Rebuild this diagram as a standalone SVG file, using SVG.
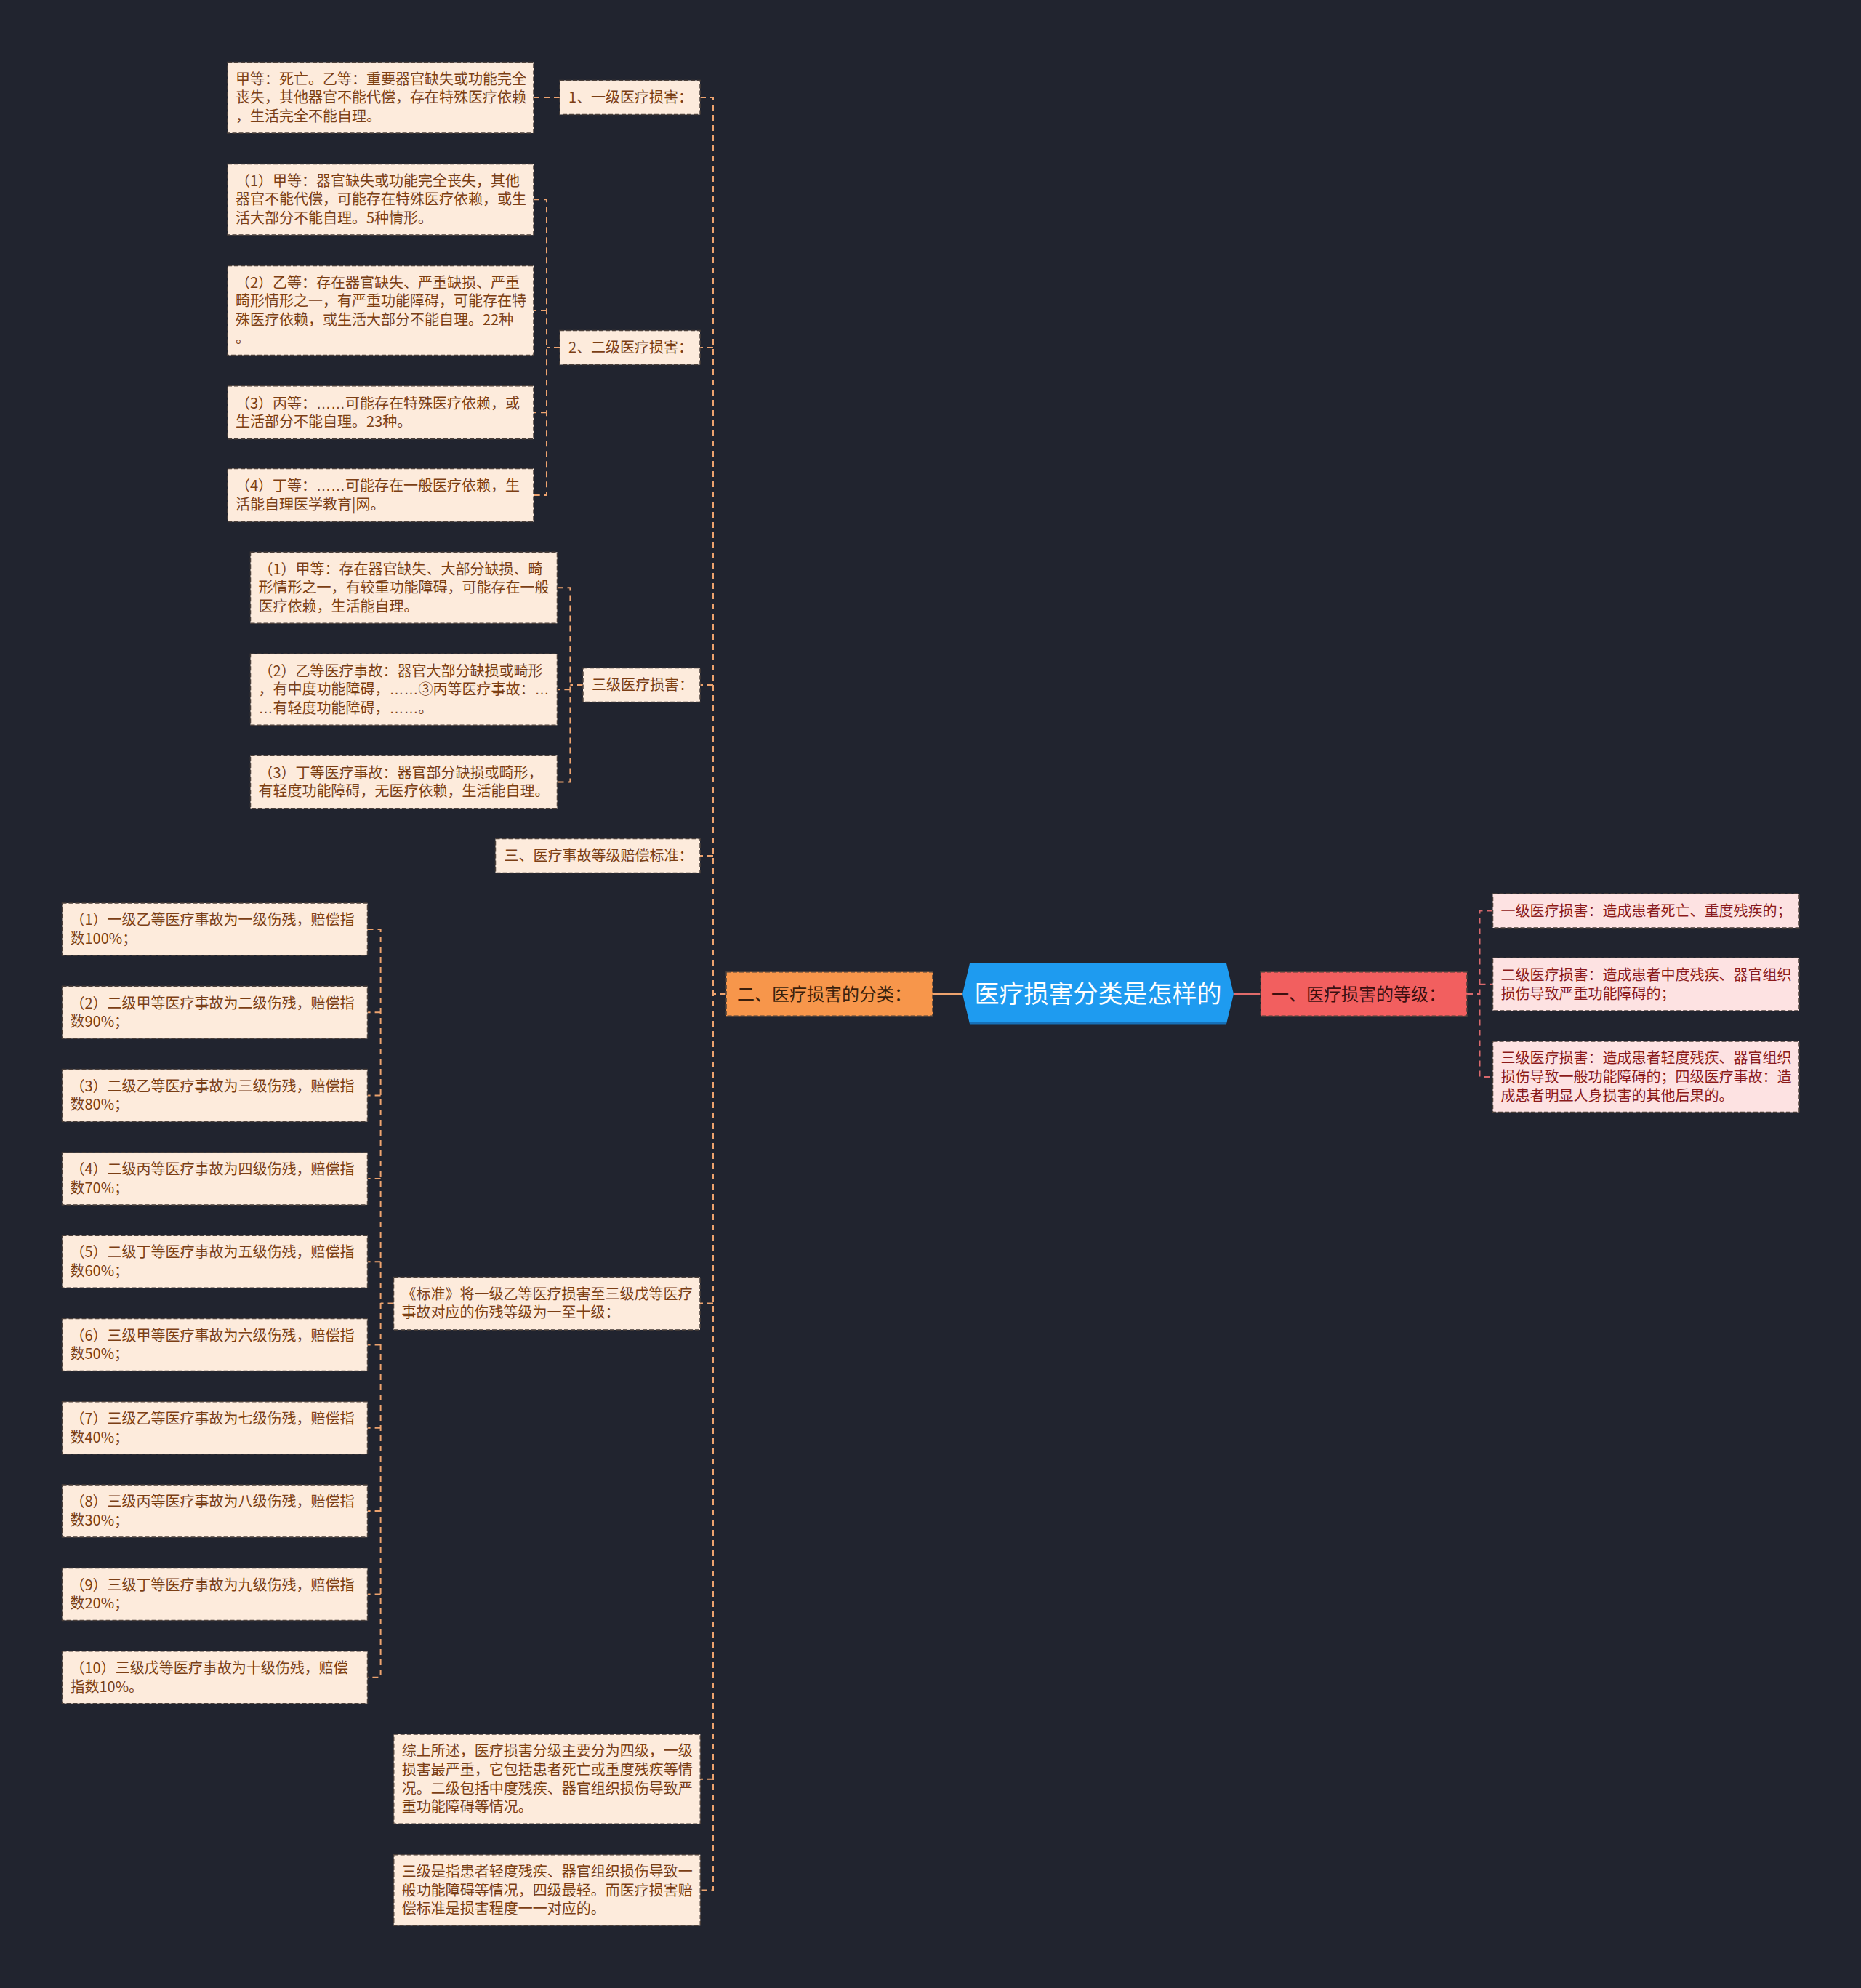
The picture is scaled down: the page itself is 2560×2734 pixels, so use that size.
<svg xmlns="http://www.w3.org/2000/svg" width="2560" height="2734" viewBox="0 0 2560 2734">
<style>
text{font-family:"Noto Sans CJK SC","Noto Sans",sans-serif;}
.bx{fill:#FDEBDC;stroke:#4a3f3a;stroke-width:1.5;stroke-dasharray:6 3;}
.bxr{fill:#FDE2E2;stroke:#4a3f3a;stroke-width:1.5;stroke-dasharray:6 3;}
.t{font-size:20px;fill:#7B3F15;}
.tr{font-size:20px;fill:#8B1A1A;}
.e{font-family:"Liberation Sans",sans-serif;}
.c{fill:none;stroke:#EDA36F;stroke-width:2;stroke-dasharray:8 6;}
.cr{fill:none;stroke:#D8686C;stroke-width:2;stroke-dasharray:8 6;}
.l1{font-size:24px;}
</style>
<rect width="2560" height="2734" fill="#21242F"/>

<g id="connectors">
  <line x1="1283" y1="1367" x2="1324" y2="1367" stroke="#EDA36F" stroke-width="4"/>
  <line x1="1697" y1="1367" x2="1734" y2="1367" stroke="#E06B6B" stroke-width="4"/>
  <path class="c" d="M999,1367 H981"/>
  <path class="c" d="M963,134 H981 V2599.5 H963"/>
  <path class="c" d="M981,478 H963"/>
  <path class="c" d="M981,942 H963"/>
  <path class="c" d="M981,1177 H963"/>
  <path class="c" d="M981,1792.6 H963"/>
  <path class="c" d="M981,2446.7 H963"/>
  <path class="c" d="M770,134 H734"/>
  <path class="c" d="M770,478 H752"/>
  <path class="c" d="M734,274.3 H752 V681 H734"/>
  <path class="c" d="M752,427 H734"/>
  <path class="c" d="M752,567.3 H734"/>
  <path class="c" d="M802,942 H784.4"/>
  <path class="c" d="M766.5,808.3 H784.4 V1075.5 H766.5"/>
  <path class="c" d="M784.4,948.3 H766.5"/>
  <path class="c" d="M541.5,1792.6 H523.6"/>
  <path class="c" d="M505.5,1278 H523.6 V2306.7 H505.5"/>
  <path class="c" d="M523.6,1392.3 H505.5"/>
  <path class="c" d="M523.6,1506.6 H505.5"/>
  <path class="c" d="M523.6,1620.9 H505.5"/>
  <path class="c" d="M523.6,1735.2 H505.5"/>
  <path class="c" d="M523.6,1849.5 H505.5"/>
  <path class="c" d="M523.6,1963.8 H505.5"/>
  <path class="c" d="M523.6,2078.1 H505.5"/>
  <path class="c" d="M523.6,2192.4 H505.5"/>
  <path class="cr" d="M2018,1367 H2035.5"/>
  <path class="cr" d="M2053.5,1252.5 H2035.5 V1481 H2053.5"/>
  <path class="cr" d="M2035.5,1353.7 H2053.5"/>
</g>

<g id="root">
  <polygon points="1324,1367 1334,1325 1687,1325 1697,1367 1687,1408 1334,1408" fill="#1E9BF0"/>
  <line x1="1334" y1="1407" x2="1687" y2="1407" stroke="#1670B8" stroke-width="3"/>
  <text x="1510.5" y="1379" font-size="34" fill="#FFFFFF" text-anchor="middle">医疗损害分类是怎样的</text>
</g>

<g id="n-fenlei">
  <rect x="999" y="1336.7" width="284" height="60.6" fill="#F7964B" stroke="#4a3f3a" stroke-width="1.5" stroke-dasharray="6 3"/>
  <text class="l1" x="1014" y="1375.5" fill="#3b1f0c">二、医疗损害的分类：</text>
</g>

<g id="n-dengji">
  <rect x="1734" y="1336.7" width="284" height="60.6" fill="#F25F5F" stroke="#4a3f3a" stroke-width="1.5" stroke-dasharray="6 3"/>
  <text class="l1" x="1749" y="1375.5" fill="#3d1010">一、医疗损害的等级：</text>
</g>

<g id="n-yiji">
  <rect class="bx" x="770" y="110.5" width="193" height="47"/>
  <text class="t" x="782" y="141">1、一级医疗损害：</text>
</g>
<g id="n-yiji-a">
  <rect class="bx" x="313" y="85.5" width="421" height="97.5"/>
  <text class="t" x="324"><tspan x="324" y="115.6">甲等：死亡。乙等：重要器官缺失或功能完全</tspan><tspan x="324" y="141.2">丧失，其他器官不能代偿，存在特殊医疗依赖</tspan><tspan x="324" y="166.8">，生活完全不能自理。</tspan></text>
</g>

<g id="n-erji">
  <rect class="bx" x="770" y="454.5" width="193" height="47"/>
  <text class="t" x="782" y="485">2、二级医疗损害：</text>
</g>
<g id="n-erji-1">
  <rect class="bx" x="313" y="225.6" width="421" height="97.5"/>
  <text class="t"><tspan x="324" y="255.7">（1）甲等：器官缺失或功能完全丧失，其他</tspan><tspan x="324" y="281.3">器官不能代偿，可能存在特殊医疗依赖，或生</tspan><tspan x="324" y="306.9">活大部分不能自理。5种情形。</tspan></text>
</g>
<g id="n-erji-2">
  <rect class="bx" x="313" y="365.5" width="421" height="123"/>
  <text class="t"><tspan x="324" y="395.6">（2）乙等：存在器官缺失、严重缺损、严重</tspan><tspan x="324" y="421.2">畸形情形之一，有严重功能障碍，可能存在特</tspan><tspan x="324" y="446.8">殊医疗依赖，或生活大部分不能自理。22种</tspan><tspan x="324" y="472.4">。</tspan></text>
</g>
<g id="n-erji-3">
  <rect class="bx" x="313" y="530.8" width="421" height="73"/>
  <text class="t"><tspan x="324" y="561.5">（3）丙等：<tspan class="e">……</tspan>可能存在特殊医疗依赖，或</tspan><tspan x="324" y="587.1">生活部分不能自理。23种。</tspan></text>
</g>
<g id="n-erji-4">
  <rect class="bx" x="313" y="644.5" width="421" height="73"/>
  <text class="t"><tspan x="324" y="675.2">（4）丁等：<tspan class="e">……</tspan>可能存在一般医疗依赖，生</tspan><tspan x="324" y="700.8">活能自理医学教育|网。</tspan></text>
</g>

<g id="n-sanji">
  <rect class="bx" x="802" y="918.5" width="161" height="47"/>
  <text class="t" x="814" y="949">三级医疗损害：</text>
</g>
<g id="n-sanji-1">
  <rect class="bx" x="344.5" y="759.3" width="422" height="98"/>
  <text class="t"><tspan x="355.5" y="789.7">（1）甲等：存在器官缺失、大部分缺损、畸</tspan><tspan x="355.5" y="815.3">形情形之一，有较重功能障碍，可能存在一般</tspan><tspan x="355.5" y="840.9">医疗依赖，生活能自理。</tspan></text>
</g>
<g id="n-sanji-2">
  <rect class="bx" x="344.5" y="899.3" width="422" height="98"/>
  <text class="t"><tspan x="355.5" y="929.7">（2）乙等医疗事故：器官大部分缺损或畸形</tspan><tspan x="355.5" y="955.3">，有中度功能障碍，<tspan class="e">……</tspan>③丙等医疗事故：<tspan class="e">…</tspan></tspan><tspan x="355.5" y="980.9"><tspan class="e">…</tspan>有轻度功能障碍，<tspan class="e">……</tspan>。</tspan></text>
</g>
<g id="n-sanji-3">
  <rect class="bx" x="344.5" y="1039.3" width="422" height="72.4"/>
  <text class="t"><tspan x="355.5" y="1069.7">（3）丁等医疗事故：器官部分缺损或畸形，</tspan><tspan x="355.5" y="1095.3">有轻度功能障碍，无医疗依赖，生活能自理。</tspan></text>
</g>

<g id="n-peichang">
  <rect class="bx" x="681.5" y="1153.5" width="281.5" height="47"/>
  <text class="t" x="693.5" y="1184">三、医疗事故等级赔偿标准：</text>
</g>

<g id="n-biaozhun">
  <rect class="bx" x="541.5" y="1756.4" width="421.5" height="72.5"/>
  <text class="t"><tspan x="552.5" y="1786.8">《标准》将一级乙等医疗损害至三级戊等医疗</tspan><tspan x="552.5" y="1812.4">事故对应的伤残等级为一至十级：</tspan></text>
</g>
<g id="n-bz-1">
  <rect class="bx" x="85.5" y="1242" width="420" height="72"/>
  <text class="t"><tspan x="96.5" y="1272.2">（1）一级乙等医疗事故为一级伤残，赔偿指</tspan><tspan x="96.5" y="1297.8">数100%；</tspan></text>
</g>
<g id="n-bz-2">
  <rect class="bx" x="85.5" y="1356.3" width="420" height="72"/>
  <text class="t"><tspan x="96.5" y="1386.5">（2）二级甲等医疗事故为二级伤残，赔偿指</tspan><tspan x="96.5" y="1412.1">数90%；</tspan></text>
</g>
<g id="n-bz-3">
  <rect class="bx" x="85.5" y="1470.6" width="420" height="72"/>
  <text class="t"><tspan x="96.5" y="1500.8">（3）二级乙等医疗事故为三级伤残，赔偿指</tspan><tspan x="96.5" y="1526.4">数80%；</tspan></text>
</g>
<g id="n-bz-4">
  <rect class="bx" x="85.5" y="1584.9" width="420" height="72"/>
  <text class="t"><tspan x="96.5" y="1615.1">（4）二级丙等医疗事故为四级伤残，赔偿指</tspan><tspan x="96.5" y="1640.7">数70%；</tspan></text>
</g>
<g id="n-bz-5">
  <rect class="bx" x="85.5" y="1699.2" width="420" height="72"/>
  <text class="t"><tspan x="96.5" y="1729.4">（5）二级丁等医疗事故为五级伤残，赔偿指</tspan><tspan x="96.5" y="1755">数60%；</tspan></text>
</g>
<g id="n-bz-6">
  <rect class="bx" x="85.5" y="1813.5" width="420" height="72"/>
  <text class="t"><tspan x="96.5" y="1843.7">（6）三级甲等医疗事故为六级伤残，赔偿指</tspan><tspan x="96.5" y="1869.3">数50%；</tspan></text>
</g>
<g id="n-bz-7">
  <rect class="bx" x="85.5" y="1927.8" width="420" height="72"/>
  <text class="t"><tspan x="96.5" y="1958">（7）三级乙等医疗事故为七级伤残，赔偿指</tspan><tspan x="96.5" y="1983.6">数40%；</tspan></text>
</g>
<g id="n-bz-8">
  <rect class="bx" x="85.5" y="2042.1" width="420" height="72"/>
  <text class="t"><tspan x="96.5" y="2072.3">（8）三级丙等医疗事故为八级伤残，赔偿指</tspan><tspan x="96.5" y="2097.9">数30%；</tspan></text>
</g>
<g id="n-bz-9">
  <rect class="bx" x="85.5" y="2156.4" width="420" height="72"/>
  <text class="t"><tspan x="96.5" y="2186.6">（9）三级丁等医疗事故为九级伤残，赔偿指</tspan><tspan x="96.5" y="2212.2">数20%；</tspan></text>
</g>
<g id="n-bz-10">
  <rect class="bx" x="85.5" y="2270.7" width="420" height="72"/>
  <text class="t"><tspan x="96.5" y="2300.9">（10）三级戊等医疗事故为十级伤残，赔偿</tspan><tspan x="96.5" y="2326.5">指数10%。</tspan></text>
</g>

<g id="n-zongshang">
  <rect class="bx" x="541.7" y="2385" width="421.6" height="123.3"/>
  <text class="t"><tspan x="552.7" y="2415.3">综上所述，医疗损害分级主要分为四级，一级</tspan><tspan x="552.7" y="2440.9">损害最严重，它包括患者死亡或重度残疾等情</tspan><tspan x="552.7" y="2466.5">况。二级包括中度残疾、器官组织损伤导致严</tspan><tspan x="552.7" y="2492.1">重功能障碍等情况。</tspan></text>
</g>
<g id="n-sanjishi">
  <rect class="bx" x="541.7" y="2550.7" width="421.6" height="97.6"/>
  <text class="t"><tspan x="552.7" y="2580.9">三级是指患者轻度残疾、器官组织损伤导致一</tspan><tspan x="552.7" y="2606.5">般功能障碍等情况，四级最轻。而医疗损害赔</tspan><tspan x="552.7" y="2632.1">偿标准是损害程度一一对应的。</tspan></text>
</g>

<g id="n-r1">
  <rect class="bxr" x="2053.5" y="1229" width="421.5" height="47"/>
  <text class="tr" x="2064.5" y="1259.5">一级医疗损害：造成患者死亡、重度残疾的；</text>
</g>
<g id="n-r2">
  <rect class="bxr" x="2053.5" y="1317.3" width="421.5" height="72.7"/>
  <text class="tr"><tspan x="2064.5" y="1347.9">二级医疗损害：造成患者中度残疾、器官组织</tspan><tspan x="2064.5" y="1373.5">损伤导致严重功能障碍的；</tspan></text>
</g>
<g id="n-r3">
  <rect class="bxr" x="2053.5" y="1432" width="421.5" height="97.5"/>
  <text class="tr"><tspan x="2064.5" y="1462.4">三级医疗损害：造成患者轻度残疾、器官组织</tspan><tspan x="2064.5" y="1488">损伤导致一般功能障碍的；四级医疗事故：造</tspan><tspan x="2064.5" y="1513.6">成患者明显人身损害的其他后果的。</tspan></text>
</g>
</svg>
